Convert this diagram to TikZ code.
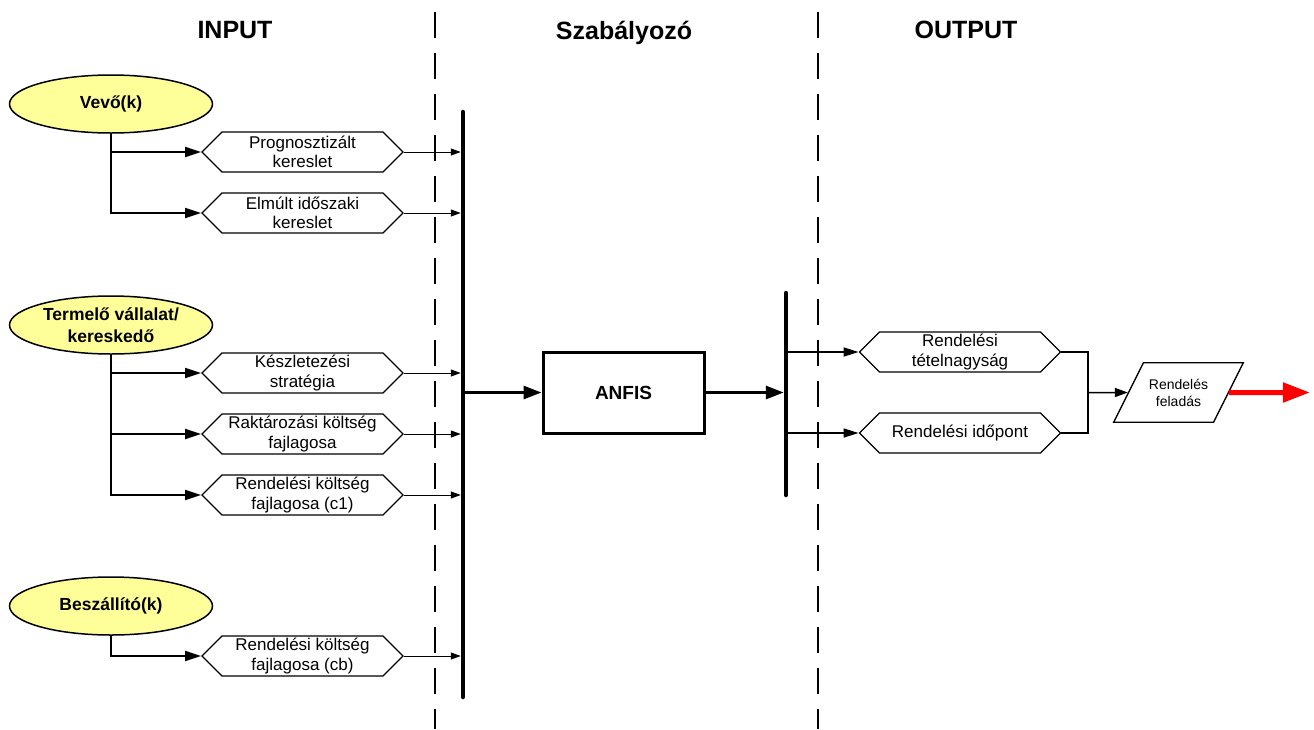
\documentclass[tikz,border=0pt]{standalone}
\usepackage{fontspec}
\setmainfont{Liberation Sans}
\usepackage{tikz}
\usetikzlibrary{arrows.meta}
\usetikzlibrary{shapes.geometric}
\usetikzlibrary{shapes.symbols}
\definecolor{srcyellow}{RGB}{255,255,153}
\tikzstyle{head}=[font=\fontsize{25}{30}\selectfont\bfseries, anchor=base]
\tikzstyle{src}=[ellipse, draw, fill=srcyellow, line width=1.5pt, minimum width=203pt, minimum height=58pt, inner sep=0pt, align=center, font=\fontsize{17.5}{21.5}\selectfont\bfseries]
\tikzstyle{par}=[signal, signal to=east and west, signal pointer angle=90, draw, line width=1.3pt, minimum width=201pt, minimum height=40pt, inner sep=0pt, align=center, font=\fontsize{17}{19.5}\selectfont]
\tikzstyle{ctrl}=[rectangle, draw, line width=3pt, minimum width=161pt, minimum height=81pt, font=\fontsize{19}{23}\selectfont\bfseries]
\tikzstyle{io}=[trapezium, trapezium left angle=63.43, trapezium right angle=116.57, draw, line width=1.3pt, inner xsep=5.5pt, inner ysep=16pt, align=center, font=\fontsize{14}{17}\selectfont]
\tikzstyle{divider}=[line width=1.5pt, dash pattern=on 26pt off 15pt]
\tikzstyle{bar}=[line width=4.5pt, line cap=round]
\tikzstyle{feed}=[line width=2pt, -{Triangle[length=16pt, width=10pt]}]
\tikzstyle{inlet}=[line width=1pt, -{Triangle[length=10pt, width=7pt]}, shorten >=2.25pt]
\tikzstyle{flow}=[line width=3pt, -{Triangle[length=18pt, width=13pt]}]
\tikzstyle{outlet}=[line width=1.5pt, -{Triangle[length=15pt, width=9pt]}]
\tikzstyle{merge}=[line width=1.5pt]
\tikzstyle{send}=[line width=5pt, red, -{Triangle[length=27pt, width=19pt]}]

\begin{document}
\begin{tikzpicture}[x=1pt, y=-1pt]
	\useasboundingbox (0,0) rectangle (1314,729);
	\draw[divider] (435,12) -- (435,729);
	\draw[divider] (818,12) -- (818,729);
	\draw (235,38) node[head] (hin) {INPUT};
	\draw (624,39) node[head] (hctrl) {Szabályozó};
	\draw (966,38) node[head] (hout) {OUTPUT};

	\draw (111,104) node[src] (vevo) {Vevő(k)};
	\draw (111,325) node[src] (termelo) {Termelő vállalat/\\kereskedő};
	\draw (111,606) node[src] (beszall) {Beszállító(k)};

	\draw (302.5,152) node[par] (prog) {Prognosztizált\\kereslet};
	\draw (302.5,213) node[par] (elmult) {Elmúlt időszaki\\kereslet};
	\draw (302.5,373) node[par] (keszlet) {Készletezési\\stratégia};
	\draw (302.5,434) node[par] (raktar) {Raktározási költség\\fajlagosa};
	\draw (302.5,495) node[par] (rendc1) {Rendelési költség\\fajlagosa (c1)};
	\draw (302.5,656) node[par] (rendcb) {Rendelési költség\\fajlagosa (cb)};

	\coordinate (busin) at (463,112);
	\coordinate (businend) at (463,697);
	\coordinate (businmid) at (463,392.5);
	\draw[bar] (busin) -- (businend);

	\draw[feed] (vevo.south) |- (prog.west);
	\draw[feed] (vevo.south) |- (elmult.west);
	\draw[feed] (termelo.south) |- (keszlet.west);
	\draw[feed] (termelo.south) |- (raktar.west);
	\draw[feed] (termelo.south) |- (rendc1.west);
	\draw[feed] (beszall.south) |- (rendcb.west);

	\draw[inlet] (prog.east) -- (prog.east -| busin);
	\draw[inlet] (elmult.east) -- (elmult.east -| busin);
	\draw[inlet] (keszlet.east) -- (keszlet.east -| busin);
	\draw[inlet] (raktar.east) -- (raktar.east -| busin);
	\draw[inlet] (rendc1.east) -- (rendc1.east -| busin);
	\draw[inlet] (rendcb.east) -- (rendcb.east -| busin);

	\draw (623.5,392.5) node[ctrl] (anfis) {ANFIS};
	\draw[flow] (businmid) -- (anfis.west);

	\coordinate (busout) at (786,293);
	\coordinate (busoutend) at (786,495);
	\draw[bar] (busout) -- (busoutend);
	\draw[flow, shorten >=2.25pt] (anfis.east) -- (anfis.east -| busout);

	\draw (960,352) node[par] (tetel) {Rendelési\\tételnagyság};
	\draw (960,433) node[par] (idopont) {Rendelési időpont};
	\draw[outlet] (tetel.west -| busout) -- (tetel.west);
	\draw[outlet] (idopont.west -| busout) -- (idopont.west);

	\coordinate (join) at (1088,392.5);
	\draw[merge] (tetel.east) -| (join) |- (idopont.east);
	\draw (1178.5,392.5) node[io] (feladas) {Rendelés\\feladás};
	\draw[outlet, -{Triangle[length=13pt, width=9pt]}] (join) -- (feladas.west);
	\coordinate (sendtip) at (1310,392.5);
	\draw[send] (feladas.east) -- (sendtip);
\end{tikzpicture}
\end{document}
